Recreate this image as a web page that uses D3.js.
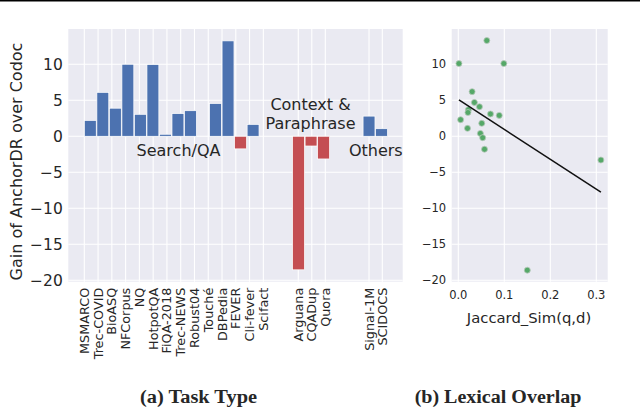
<!DOCTYPE html>
<html>
<head>
<meta charset="utf-8">
<script src="https://cdn.jsdelivr.net/npm/d3@7"></script>
<style>
html,body{margin:0;padding:0;background:#fff;}
svg{display:block;}
text{font-family:"DejaVu Sans",sans-serif;fill:#262626;}
</style>
</head>
<body>
<svg id="c" width="640" height="408"></svg>
<script>
// ---- data ----
const searchCats = ["MSMARCO","Trec-COVID","BioASQ","NFCorpus","NQ","HotpotQA","FiQA-2018","Trec-NEWS","Robust04","Touché","DBPedia","FEVER","Cli-fever","Scifact"];
const searchVals = [2.2, 6.1, 3.9, 10.0, 3.05, 9.95, 0.28, 3.15, 3.55, 0.0, 4.55, 13.25, -1.75, 1.65];
const paraCats = ["Arguana","CQADup","Quora"];
const paraVals = [-18.55, -1.35, -3.15];
const otherCats = ["Signal-1M","SCIDOCS"];
const otherVals = [2.8, 1.05];
const groupLabels = ["Search/QA","Context &\nParaphrase","Others"];
const yTicks = [-20,-15,-10,-5,0,5,10];
const simX = [0.0014,0.062,0.099,0.030,0.035,0.046,0.022,0.021,0.070,0.089,0.005,0.051,0.020,0.048,0.053,0.057,0.310,0.150];
const simY = [10.1,13.3,10.1,6.2,4.7,4.1,3.7,3.3,3.1,2.9,2.3,1.8,1.1,0.4,-0.2,-1.8,-3.3,-18.6];
const fitIntercept = 5.1, fitSlope = -41.5;
const xTicksR = [0.0,0.1,0.2,0.3];

// ---- layout ----
const svg = d3.select("#c");
const BG = "#eaeaf2", BLUE = "#4c72b0", RED = "#c44e52", GREEN = "#55a868";
const L = {left:68.3, right:402.7, top:29, bottom:281.7};
const R = {left:451.7, right:607.7, top:29, bottom:281.7};
const yDomain = [-20.2, 14.9];

// top rule
svg.append("line").attr("x1",0).attr("x2",640).attr("y1",0.8).attr("y2",0.8)
  .attr("stroke","#000").attr("stroke-width",1.4);

// build bar items
const groups = [
  {cats:searchCats, vals:searchVals, tickOff:-0.48, tickStep:1.1},
  {cats:paraCats, vals:paraVals, tickOff:-0.02, tickStep:1.08},
  {cats:otherCats, vals:otherVals, tickOff:0, tickStep:1.06}
];
const GAP = 2.63;
let items = [], idx = 0;
groups.forEach((g,gi)=>{
  const start = idx + gi*GAP;
  g.cats.forEach((c,j)=>{
    items.push({cat:c, val:g.vals[j], pos:start+j, tick:start+g.tickOff+g.tickStep*j, group:gi});
  });
  idx += g.cats.length;
});

const x = d3.scaleLinear().domain([-1.757, 24.95]).range([L.left, L.right]);
const y = d3.scaleLinear().domain(yDomain).range([L.bottom, L.top]);

// left panel
const gl = svg.append("g");
gl.append("rect").attr("x",L.left).attr("y",L.top).attr("width",L.right-L.left).attr("height",L.bottom-L.top).attr("fill",BG);
gl.selectAll("line.hg").data(yTicks).join("line")
  .attr("x1",L.left).attr("x2",L.right).attr("y1",d=>y(d)).attr("y2",d=>y(d))
  .attr("stroke","#fff").attr("stroke-width",1.1);
gl.selectAll("line.vg").data(items).join("line")
  .attr("x1",d=>x(d.tick)).attr("x2",d=>x(d.tick)).attr("y1",L.top).attr("y2",L.bottom)
  .attr("stroke","#fff").attr("stroke-width",1.1);
const bw = 0.95;
gl.selectAll("rect.bar").data(items.filter(d=>d.val!==0)).join("rect")
  .attr("x",d=>x(d.pos-bw/2)).attr("width",d=>x(bw)-x(0))
  .attr("y",d=>y(Math.max(0,d.val))).attr("height",d=>Math.abs(y(d.val)-y(0)))
  .attr("fill",d=>d.val>=0?BLUE:RED).attr("stroke","#fff").attr("stroke-width",0.7);
// y ticks
gl.selectAll("text.yt").data(yTicks).join("text")
  .attr("x",L.left-5.5).attr("y",d=>y(d)).attr("dy","0.36em").attr("text-anchor","end")
  .attr("font-size",15.5).text(d=>d3.format("d")(d).replace("-","\u2212"));
// x tick labels
gl.selectAll("text.xt").data(items).join("text")
  .attr("transform",d=>`translate(${x(d.tick)+4.5},${L.bottom+6}) rotate(-90)`)
  .attr("text-anchor","end").attr("font-size",12.8).text(d=>d.cat);
// y axis label
gl.append("text").attr("transform","translate(22,161.5) rotate(-90)").attr("text-anchor","middle")
  .attr("font-size",16).text("Gain of AnchorDR over Codoc");
// group annotations
gl.append("text").attr("x",178.5).attr("y",155.5).attr("text-anchor","middle").attr("font-size",16).text(groupLabels[0]);
const pl = groupLabels[1].split("\n");
gl.append("text").attr("x",310.5).attr("y",109.8).attr("text-anchor","middle").attr("font-size",16).text(pl[0]);
gl.append("text").attr("x",310.5).attr("y",129).attr("text-anchor","middle").attr("font-size",16).text(pl[1]);
gl.append("text").attr("x",375.8).attr("y",155.5).attr("text-anchor","middle").attr("font-size",16).text(groupLabels[2]);
// caption
svg.append("text").attr("x",198.5).attr("y",403).attr("text-anchor","middle")
  .style("font-family","'Liberation Serif',serif").attr("font-weight","bold").attr("font-size",18.5)
  .attr("textLength",117).attr("lengthAdjust","spacingAndGlyphs").text("(a) Task Type");

// right panel
const xr = d3.scaleLinear().domain([-0.01435, 0.3248]).range([R.left, R.right]);
const yr = d3.scaleLinear().domain(yDomain).range([R.bottom, R.top]);
const gr = svg.append("g");
gr.append("rect").attr("x",R.left).attr("y",R.top).attr("width",R.right-R.left).attr("height",R.bottom-R.top).attr("fill",BG);
gr.selectAll("line.hg").data(yTicks).join("line")
  .attr("x1",R.left).attr("x2",R.right).attr("y1",d=>yr(d)).attr("y2",d=>yr(d))
  .attr("stroke","#fff").attr("stroke-width",1.1);
gr.selectAll("line.vg").data(xTicksR).join("line")
  .attr("x1",d=>xr(d)).attr("x2",d=>xr(d)).attr("y1",R.top).attr("y2",R.bottom)
  .attr("stroke","#fff").attr("stroke-width",1.1);
const pts = simX.map((v,i)=>({x:v,y:simY[i]}));
gr.selectAll("circle").data(pts).join("circle")
  .attr("cx",d=>xr(d.x)).attr("cy",d=>yr(d.y)).attr("r",3)
  .attr("fill",GREEN).attr("stroke","#b9c9bd").attr("stroke-width",0.8);
const fx = d3.extent(simX);
gr.append("line")
  .attr("x1",xr(fx[0])).attr("y1",yr(fitIntercept+fitSlope*fx[0]))
  .attr("x2",xr(fx[1])).attr("y2",yr(fitIntercept+fitSlope*fx[1]))
  .attr("stroke","#111").attr("stroke-width",1.5);
gr.selectAll("text.yt").data(yTicks).join("text")
  .attr("x",R.left-5.5).attr("y",d=>yr(d)).attr("dy","0.36em").attr("text-anchor","end")
  .attr("font-size",11.5).text(d=>d3.format("d")(d).replace("-","\u2212"));
gr.selectAll("text.xt").data(xTicksR).join("text")
  .attr("x",d=>xr(d)).attr("y",R.bottom+17.5).attr("text-anchor","middle")
  .attr("font-size",11.5).text(d=>d3.format(".1f")(d));
gr.append("text").attr("x",529).attr("y",323).attr("text-anchor","middle").attr("font-size",14.8).text("Jaccard_Sim(q,d)");
svg.append("text").attr("x",498).attr("y",403).attr("text-anchor","middle")
  .style("font-family","'Liberation Serif',serif").attr("font-weight","bold").attr("font-size",18.5)
  .attr("textLength",166.7).attr("lengthAdjust","spacingAndGlyphs").text("(b) Lexical Overlap");
</script>
</body>
</html>
